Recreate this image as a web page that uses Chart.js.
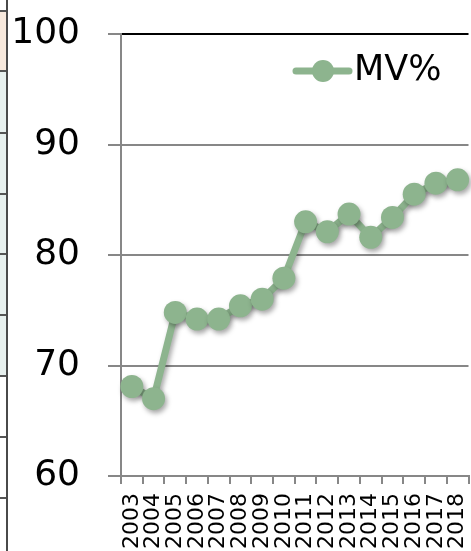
<!DOCTYPE html>
<html>
<head>
<meta charset="utf-8">
<script src="https://cdn.jsdelivr.net/npm/chart.js@4/dist/chart.umd.min.js"></script>
<style>
  html, body { margin: 0; padding: 0; background: #fff; overflow: hidden; width: 471px; height: 551px; }
  #wrap { position: relative; width: 471px; height: 551px; overflow: hidden; }
  canvas { position: absolute; left: 0; top: 0; }
  .cell { position: absolute; left: 0; width: 7px; border-top: 2px solid #555; box-sizing: border-box; }
  .vline { position: absolute; left: 6px; top: 0; width: 2px; height: 551px; background: #4a4a4a; }
</style>
</head>
<body>
<div id="wrap">
  <canvas id="c" width="480" height="551"></canvas>
  <div class="cell" style="top:10px;height:61px;background:#f7e8dc"></div>
  <div class="cell" style="top:70px;height:62px;background:#e7f0ee"></div>
  <div class="cell" style="top:132px;height:62px;background:#e7f0ee"></div>
  <div class="cell" style="top:193px;height:61px;background:#e7f0ee"></div>
  <div class="cell" style="top:253px;height:62px;background:#e7f0ee"></div>
  <div class="cell" style="top:314px;height:62px;background:#e7f0ee"></div>
  <div class="cell" style="top:375px;height:62px;background:#fff"></div>
  <div class="cell" style="top:436px;height:62px;background:#fff"></div>
  <div class="cell" style="top:497px;height:54px;background:#fff"></div>
  <div class="vline"></div>
</div>
<script>
const years = ['2003','2004','2005','2006','2007','2008','2009','2010','2011','2012','2013','2014','2015','2016','2017','2018'];
const mvPercent = [68.1, 67.0, 74.8, 74.2, 74.2, 75.4, 76.0, 77.9, 83.0, 82.1, 83.7, 81.6, 83.4, 85.5, 86.5, 86.8];
const seriesLabel = 'MV%';
const yTicks = [60, 70, 80, 90, 100];

const green = '#8db48e';
const gridGray = '#878787';
const fontFamily = '"DejaVu Sans", Verdana, sans-serif';

const shadowPlugin = {
  id: 'shadow',
  beforeDatasetsDraw(chart) {
    const c = chart.ctx;
    c.save();
    c.shadowColor = 'rgba(0,0,0,0.35)';
    c.shadowBlur = 5;
    c.shadowOffsetX = 2;
    c.shadowOffsetY = 3;
  },
  afterDatasetsDraw(chart) { chart.ctx.restore(); }
};

const legendPlugin = {
  id: 'customLegend',
  afterDraw(chart) {
    const ctx = chart.ctx;
    const ds = chart.data.datasets[0];
    ctx.save();
    ctx.strokeStyle = ds.borderColor;
    ctx.lineWidth = 7;
    ctx.lineCap = 'round';
    ctx.beginPath(); ctx.moveTo(296, 71); ctx.lineTo(349, 71); ctx.stroke();
    ctx.fillStyle = ds.pointBackgroundColor;
    ctx.beginPath(); ctx.arc(323, 71, 11, 0, Math.PI * 2); ctx.fill();
    ctx.fillStyle = '#000';
    ctx.font = '35px ' + fontFamily;
    ctx.textBaseline = 'alphabetic';
    ctx.textAlign = 'left';
    ctx.fillText(ds.label, 354, 80);
    ctx.restore();
  }
};

new Chart(document.getElementById('c'), {
  type: 'line',
  data: {
    labels: years,
    datasets: [{
      label: seriesLabel,
      data: mvPercent,
      borderColor: green,
      backgroundColor: green,
      pointBackgroundColor: green,
      pointBorderColor: green,
      borderWidth: 7,
      pointRadius: 11.5,
      pointBorderWidth: 0,
      tension: 0,
      clip: false
    }]
  },
  options: {
    responsive: false,
    devicePixelRatio: 1,
    animation: false,
    layout: { padding: { left: 0, top: 34, right: 4, bottom: 0 } },
    plugins: { legend: { display: false }, tooltip: { enabled: false } },
    scales: {
      x: {
        type: 'category',
        offset: true,
        afterFit(axis) { axis.height = 75; axis.paddingLeft = 0; axis.paddingRight = 0; },
        grid: { drawOnChartArea: false, drawTicks: true, tickLength: 8, color: gridGray, lineWidth: 2, offset: true },
        border: { display: true, color: gridGray, width: 2 },
        ticks: {
          autoSkip: false, maxRotation: 90, minRotation: 90, padding: 9,
          color: '#000', font: { family: fontFamily, size: 22 }
        }
      },
      y: {
        min: yTicks[0], max: yTicks[yTicks.length - 1],
        afterFit(axis) { axis.width = 121; axis.paddingTop = 20; axis.paddingBottom = 20; },
        afterBuildTicks(axis) { axis.ticks = yTicks.map(v => ({ value: v })); },
        grid: {
          color: (c) => (c.tick && c.tick.value === 100) ? '#000' : gridGray,
          tickColor: gridGray,
          lineWidth: 2, tickLength: 13, drawTicks: true
        },
        border: { display: true, color: gridGray, width: 2 },
        ticks: { color: '#000', padding: 28, font: { family: fontFamily, size: 36 } }
      }
    }
  },
  plugins: [shadowPlugin, legendPlugin]
});
</script>
</body>
</html>
